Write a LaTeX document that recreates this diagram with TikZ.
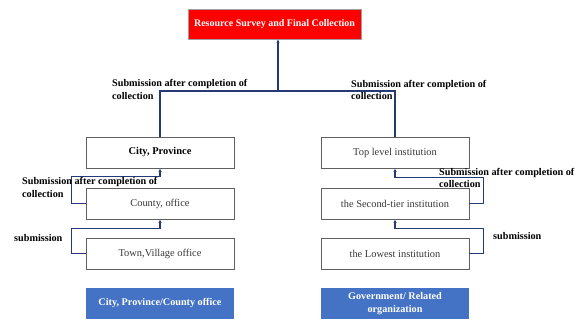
\documentclass[tikz,border=0pt]{standalone}
\usepackage{fontspec}
\setmainfont{Liberation Serif}
\usetikzlibrary{arrows.meta}

\definecolor{linkblue}{RGB}{36,58,118}
\definecolor{headred}{RGB}{255,0,0}
\definecolor{footblue}{RGB}{68,114,196}
\definecolor{boxgray}{RGB}{95,95,95}
\definecolor{textgray}{RGB}{55,55,55}

\begin{document}
\begin{tikzpicture}[x=1pt,y=-1pt,
    level/.style={draw=boxgray, line width=0.9pt, minimum width=148pt, minimum height=31pt,
        inner sep=0pt, text=textgray, font=\fontsize{10.4}{12}\selectfont},
    headbox/.style={fill=headred, draw=boxgray!60, line width=0.5pt, minimum width=173pt,
        minimum height=30pt, inner sep=0pt, text=white, font=\bfseries\fontsize{10}{12}\selectfont},
    footbox/.style={fill=footblue, minimum width=148pt, minimum height=31pt, inner sep=0pt,
        align=center, text=white, font=\bfseries\fontsize{10.2}{12.5}\selectfont},
    link/.style={draw=linkblue, line width=1.2pt},
    feed/.style={link, -{Latex[length=3.5pt,width=3.5pt]}},
    note/.style={inner sep=0pt, align=left, font=\bfseries\fontsize{10.2}{12.5}\selectfont}]
    \useasboundingbox (0,0) rectangle (577,320);

    % top of the survey
    \node[headbox] (head) at (274.5,24) {Resource Survey and Final Collection};

    % city / province side
    \node[level, text=black, font=\bfseries\fontsize{10.4}{12}\selectfont] (city) at (160,152.5) {City, Province};
    \node[level] (county) at (160,203.5) {County, office};
    \node[level] (town) at (160,253.5) {Town,Village office};
    \node[footbox] (cityfoot) at (160,303.5) {City, Province/County office};

    % institution side
    \node[level] (toplevel) at (395,152.5) {Top level institution};
    \node[level] (second) at (395,203.5) {the Second-tier institution};
    \node[level] (lowest) at (395,253.5) {the Lowest institution};
    \node[footbox] (govfoot) at (395,303.5) {Government/ Related\\organization};

    % collecting upwards
    \coordinate (bus) at (278,91);
    \draw[link] (city.north) |- (bus) -| (toplevel.north);
    \draw[feed] (bus) -- (bus |- head.south);

    \draw[feed] (county.west) -- ++(-14,0) |- ([yshift=-8pt]city.south) -- (city.south);
    \draw[feed] (town.west) -- ++(-14,0) |- ([yshift=-9pt]county.south) -- (county.south);
    \draw[feed] (second.east) -- ++(14,0) |- ([yshift=-9pt]toplevel.south) -- (toplevel.south);
    \draw[feed] (lowest.east) -- ++(14,0) |- ([yshift=-9pt]second.south) -- (second.south);

    % labels on the links
    \node[note, anchor=north west] (lefttop) at (112,79.5) {Submission after completion of\\collection};
    \node[note, anchor=north west] (righttop) at (351,80) {Submission after completion of\\collection};
    \node[note, anchor=north west] (leftmid) at (22,177.5) {Submission after completion of\\collection};
    \node[note, anchor=north west] (rightmid) at (439,168) {Submission after completion of\\collection};
    \node[note, anchor=west] (leftlow) at (14,238.5) {submission};
    \node[note, anchor=west] (rightlow) at (493,236.5) {submission};
\end{tikzpicture}
\end{document}
